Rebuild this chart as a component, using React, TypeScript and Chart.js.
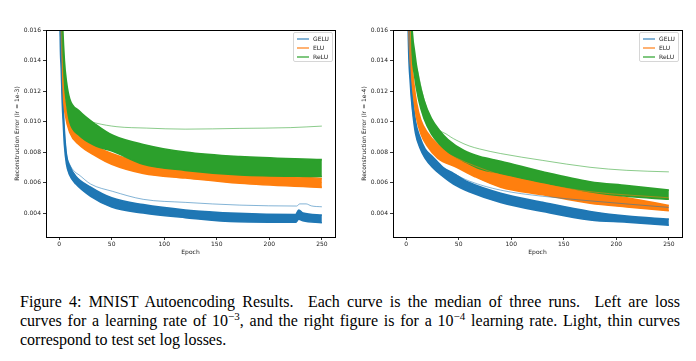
import React, { useEffect, useRef } from "react";
import { Chart, registerables } from "chart.js";
Chart.register(...registerables);

// ---------- shared axis data ----------
const xTicks = [0, 50, 100, 150, 200, 250];
const yTicks = [0.004, 0.006, 0.008, 0.01, 0.012, 0.014, 0.016];
const seriesNames = ["GELU", "ELU", "ReLU"];

// ---------- left panel (lr = 1e-3): training bands (low/high) ----------
const L_GELU_EPOCHS = [0, 1, 2, 3, 4, 5, 7, 10, 16, 30, 50, 80, 120, 170, 225, 228, 232, 250];
const L_GELU_LOW = [0.03, 0.016, 0.0135, 0.0112, 0.0098, 0.0085, 0.0072, 0.0065, 0.0059, 0.0051, 0.0044, 0.004, 0.0037, 0.00343, 0.0034, 0.0036, 0.0035, 0.00336];
const L_GELU_HIGH = [0.032, 0.0175, 0.015, 0.0128, 0.0108, 0.0094, 0.0078, 0.0071, 0.0064, 0.0057, 0.005, 0.00455, 0.0042, 0.00398, 0.0039, 0.0042, 0.004, 0.00387];

const L_ELU_EPOCHS = [0, 2, 3, 4, 6, 10, 19, 35, 50, 80, 120, 172, 250];
const L_ELU_LOW = [0.028, 0.0165, 0.0138, 0.0117, 0.0104, 0.0093, 0.00848, 0.00774, 0.0072, 0.0066, 0.0063, 0.00595, 0.00568];
const L_ELU_HIGH = [0.03, 0.018, 0.015, 0.0127, 0.0112, 0.0099, 0.00913, 0.00839, 0.0079, 0.0073, 0.0069, 0.0066, 0.00627];

const L_RELU_EPOCHS = [0, 2, 3, 5, 7, 10, 19, 35, 51, 80, 120, 172, 250];
const L_RELU_LOW = [0.028, 0.0175, 0.015, 0.0125, 0.0112, 0.01, 0.0091, 0.0084, 0.00805, 0.0072, 0.0068, 0.0065, 0.0064];
const L_RELU_HIGH = [0.032, 0.02, 0.017, 0.014, 0.0126, 0.0115, 0.0107, 0.0098, 0.0091, 0.0085, 0.008, 0.0077, 0.0075];

// ---------- left panel: test curves ----------
const L_GELU_TEST_EPOCHS = [0, 2, 4, 7, 10, 15, 19, 30, 51, 80, 120, 172, 226, 229, 235, 240, 250];
const L_GELU_TEST = [0.031, 0.0145, 0.0105, 0.0079, 0.0072, 0.0067, 0.0065, 0.0059, 0.00542, 0.0049, 0.0047, 0.00452, 0.00446, 0.0046, 0.0046, 0.00447, 0.00441];
const L_ELU_TEST_EPOCHS = [0, 3, 6, 10, 19, 35, 50, 80, 120, 172, 250];
const L_ELU_TEST = [0.029, 0.0144, 0.0108, 0.0096, 0.0088, 0.0081, 0.0075, 0.007, 0.0066, 0.0063, 0.006];
const L_RELU_TEST_EPOCHS = [0, 3, 5, 8, 12, 19, 26, 35, 55, 83, 120, 172, 220, 250];
const L_RELU_TEST = [0.03, 0.016, 0.0135, 0.0118, 0.01075, 0.0104, 0.0101, 0.0099, 0.00966, 0.00957, 0.0095, 0.00955, 0.0096, 0.0097];

// ---------- right panel (lr = 1e-4): training bands ----------
const R_GELU_EPOCHS = [0, 2, 4, 6, 9, 13, 18, 25, 35, 45, 60, 90, 130, 175, 210, 250];
const R_GELU_LOW = [0.03, 0.016, 0.0125, 0.0108, 0.0092, 0.0083, 0.0076, 0.007, 0.0064, 0.0059, 0.0054, 0.0047, 0.0041, 0.00355, 0.0034, 0.0032];
const R_GELU_HIGH = [0.032, 0.018, 0.0138, 0.0118, 0.01, 0.009, 0.0082, 0.0077, 0.007, 0.0066, 0.006, 0.0053, 0.0047, 0.0041, 0.0038, 0.0036];

const R_ELU_EPOCHS = [0, 3, 5, 7.5, 10, 14, 20, 30, 48, 65, 90, 130, 175, 210, 250];
const R_ELU_LOW = [0.029, 0.0155, 0.0131, 0.0114, 0.0102, 0.0092, 0.0084, 0.0076, 0.007, 0.0064, 0.0057, 0.0052, 0.00465, 0.0044, 0.00415];
const R_ELU_HIGH = [0.031, 0.0168, 0.0142, 0.0124, 0.0112, 0.0101, 0.0093, 0.0085, 0.0078, 0.0072, 0.0066, 0.006, 0.0054, 0.005, 0.0045];

const R_RELU_EPOCHS = [0, 5, 8, 12, 17, 24, 32, 40, 55, 70, 90, 130, 175, 210, 250];
const R_RELU_LOW = [0.029, 0.0152, 0.013, 0.0114, 0.0102, 0.0092, 0.0085, 0.008, 0.0074, 0.0069, 0.0066, 0.006, 0.0054, 0.0051, 0.0049];
const R_RELU_HIGH = [0.032, 0.017, 0.0146, 0.0128, 0.0114, 0.0102, 0.0094, 0.0088, 0.0081, 0.0077, 0.0074, 0.0067, 0.00605, 0.0058, 0.0055];

// ---------- right panel: test curves ----------
const R_GELU_TEST_EPOCHS = [0, 4, 9, 18, 30, 45, 60, 90, 130, 175, 250];
const R_GELU_TEST = [0.03, 0.0135, 0.0097, 0.0081, 0.0072, 0.0066, 0.0061, 0.0055, 0.0051, 0.0048, 0.00437];
const R_ELU_TEST_EPOCHS = [0, 5, 10, 20, 30, 48, 65, 90, 130, 175, 250];
const R_ELU_TEST = [0.03, 0.0138, 0.0109, 0.0091, 0.0083, 0.0076, 0.0071, 0.0065, 0.0059, 0.0054, 0.005];
const R_RELU_TEST_EPOCHS = [0, 6, 12, 24, 40, 50, 60, 70, 90, 130, 175, 210, 250];
const R_RELU_TEST = [0.03, 0.016, 0.013, 0.0101, 0.0091, 0.0087, 0.0084, 0.0082, 0.0079, 0.00745, 0.007, 0.0068, 0.0067];

const COLORS = ["#1f77b4", "#ff7f0e", "#2ca02c"];
const LIGHT = ["rgba(31,119,180,0.55)", "rgba(255,127,14,0.55)", "rgba(44,160,44,0.55)"];
const LEGEND_COLORS = ["#86b4d6", "#ffb273", "#7fc77f"];
const FONT = "'DejaVu Sans', sans-serif";

type Band = { epochs: number[]; low: number[]; high: number[] };
type Test = { epochs: number[]; values: number[] };

const pts = (xs: number[], ys: number[]) => xs.map((x, i) => ({ x, y: ys[i] }));

const framePlugin = {
  id: "frame",
  afterDraw(chart: any) {
    const { ctx, chartArea: a } = chart;
    ctx.save();
    ctx.strokeStyle = "#000";
    ctx.lineWidth = 1;
    ctx.strokeRect(Math.round(a.left) + 0.5, Math.round(a.top) + 0.5, Math.round(a.right - a.left), Math.round(a.bottom - a.top));
    ctx.restore();
  },
};

function buildConfig(bands: Band[], tests: Test[], yTitle: string) {
  const datasets: any[] = [];
  bands.forEach((b, i) => {
    const common = {
      borderColor: COLORS[i],
      borderWidth: 1.6,
      pointRadius: 0,
      cubicInterpolationMode: "monotone",
      clip: 0,
      order: 9 - i,
    };
    datasets.push({ ...common, label: seriesNames[i] + " low", data: pts(b.epochs, b.low), fill: false });
    datasets.push({ ...common, label: seriesNames[i] + " high", data: pts(b.epochs, b.high), fill: "-1", backgroundColor: COLORS[i] });
  });
  tests.forEach((t, i) => {
    datasets.push({
      label: seriesNames[i],
      data: pts(t.epochs, t.values),
      borderColor: LIGHT[i],
      borderWidth: 1,
      pointRadius: 0,
      fill: false,
      cubicInterpolationMode: "monotone",
      clip: 0,
      order: 3 - i,
    });
  });
  const tickFont = { family: FONT, size: 6 };
  return {
    type: "line",
    data: { datasets },
    options: {
      animation: false,
      responsive: false,
      events: [],
      layout: { padding: { left: 0, right: 10, top: 10, bottom: 0 } },
      plugins: { legend: { display: false }, tooltip: { enabled: false } },
      scales: {
        x: {
          type: "linear",
          min: -12.5,
          max: 262.5,
          afterBuildTicks: (s: any) => {
            s.ticks = xTicks.map((v) => ({ value: v }));
          },
          afterFit: (s: any) => {
            s.height = 28;
          },
          grid: { display: true, drawOnChartArea: false, drawTicks: true, tickLength: 3, color: "#000", lineWidth: 0.8 },
          border: { display: true, color: "#000", width: 1 },
          ticks: { font: tickFont, color: "#222", padding: 1, maxRotation: 0, autoSkip: false, callback: (v: any) => String(v) },
          title: { display: true, text: "Epoch", font: tickFont, color: "#222", padding: { top: 0, bottom: 9 } },
        },
        y: {
          type: "linear",
          min: 0.00243,
          max: 0.016,
          afterBuildTicks: (s: any) => {
            s.ticks = yTicks.map((v) => ({ value: v }));
          },
          afterFit: (s: any) => {
            s.width = 46;
          },
          grid: { display: true, drawOnChartArea: false, drawTicks: true, tickLength: 3, color: "#000", lineWidth: 0.8 },
          border: { display: true, color: "#000", width: 1 },
          ticks: { font: tickFont, color: "#222", padding: 2, autoSkip: false, callback: (v: any) => Number(v).toFixed(3) },
          title: { display: true, text: yTitle, font: tickFont, color: "#222", padding: { top: 13.5, bottom: 0 } },
        },
      },
    },
    plugins: [framePlugin],
  };
}

function Panel(props: { left: number; bands: Band[]; tests: Test[]; yTitle: string; legendLeft: number }) {
  const ref = useRef<HTMLCanvasElement | null>(null);
  useEffect(() => {
    const chart = new Chart(ref.current as HTMLCanvasElement, buildConfig(props.bands, props.tests, props.yTitle) as any);
    return () => chart.destroy();
  }, []);
  return (
    <>
      <div style={{ position: "absolute", left: props.left, top: 20, width: 345, height: 245 }}>
        <canvas ref={ref} width={345} height={245} style={{ width: 345, height: 245, display: "block" }} />
      </div>
      <div
        style={{
          position: "absolute",
          left: props.legendLeft,
          top: 32,
          width: 40,
          height: 30,
          boxSizing: "border-box",
          border: "1px solid #d6d6d6",
          borderRadius: 2,
          background: "rgba(255,255,255,0.85)",
          fontFamily: FONT,
          fontSize: 6,
          color: "#222",
        }}
      >
        {seriesNames.map((n, i) => (
          <div key={n} style={{ position: "absolute", left: 3, top: 1 + i * 9, height: 9, display: "flex", alignItems: "center", whiteSpace: "nowrap" }}>
            <span style={{ display: "inline-block", width: 12, height: 2, background: LEGEND_COLORS[i] }} />
            <span style={{ marginLeft: 4, lineHeight: "9px" }}>{n}</span>
          </div>
        ))}
      </div>
    </>
  );
}

const leftBands: Band[] = [
  { epochs: L_GELU_EPOCHS, low: L_GELU_LOW, high: L_GELU_HIGH },
  { epochs: L_ELU_EPOCHS, low: L_ELU_LOW, high: L_ELU_HIGH },
  { epochs: L_RELU_EPOCHS, low: L_RELU_LOW, high: L_RELU_HIGH },
];
const leftTests: Test[] = [
  { epochs: L_GELU_TEST_EPOCHS, values: L_GELU_TEST },
  { epochs: L_ELU_TEST_EPOCHS, values: L_ELU_TEST },
  { epochs: L_RELU_TEST_EPOCHS, values: L_RELU_TEST },
];
const rightBands: Band[] = [
  { epochs: R_GELU_EPOCHS, low: R_GELU_LOW, high: R_GELU_HIGH },
  { epochs: R_ELU_EPOCHS, low: R_ELU_LOW, high: R_ELU_HIGH },
  { epochs: R_RELU_EPOCHS, low: R_RELU_LOW, high: R_RELU_HIGH },
];
const rightTests: Test[] = [
  { epochs: R_GELU_TEST_EPOCHS, values: R_GELU_TEST },
  { epochs: R_ELU_TEST_EPOCHS, values: R_ELU_TEST },
  { epochs: R_RELU_TEST_EPOCHS, values: R_RELU_TEST },
];

const capLine: React.CSSProperties = {
  position: "absolute",
  left: 20,
  width: 660,
  textAlign: "justify",
  textAlignLast: "justify" as any,
  whiteSpace: "nowrap",
};
const supStyle: React.CSSProperties = { fontSize: 11, verticalAlign: "6px", lineHeight: 0 };

export default function App() {
  return (
    <div style={{ position: "absolute", left: 0, top: 0, width: 696, height: 361, background: "#fff", overflow: "hidden" }}>
      <Panel left={0} bands={leftBands} tests={leftTests} yTitle="Reconstruction Error (lr = 1e-3)" legendLeft={293} />
      <Panel left={347} bands={rightBands} tests={rightTests} yTitle="Reconstruction Error (lr = 1e-4)" legendLeft={639} />
      <div style={{ fontFamily: "'Liberation Serif', 'Times New Roman', serif", fontSize: 16, color: "#000", lineHeight: "18px" }}>
        <div style={{ ...capLine, top: 293, whiteSpace: "normal" }}>
          Figure 4: MNIST Autoencoding Results.&nbsp; Each curve is the median of three runs.&nbsp; Left are loss
        </div>
        <div style={{ ...capLine, top: 312, whiteSpace: "normal" }}>
          curves for a learning rate of 10<span style={supStyle}>−3</span>, and the right figure is for a 10<span style={supStyle}>−4</span> learning rate. Light, thin curves
        </div>
        <div style={{ ...capLine, top: 331, textAlign: "left", textAlignLast: "left" as any }}>correspond to test set log losses.</div>
      </div>
    </div>
  );
}
